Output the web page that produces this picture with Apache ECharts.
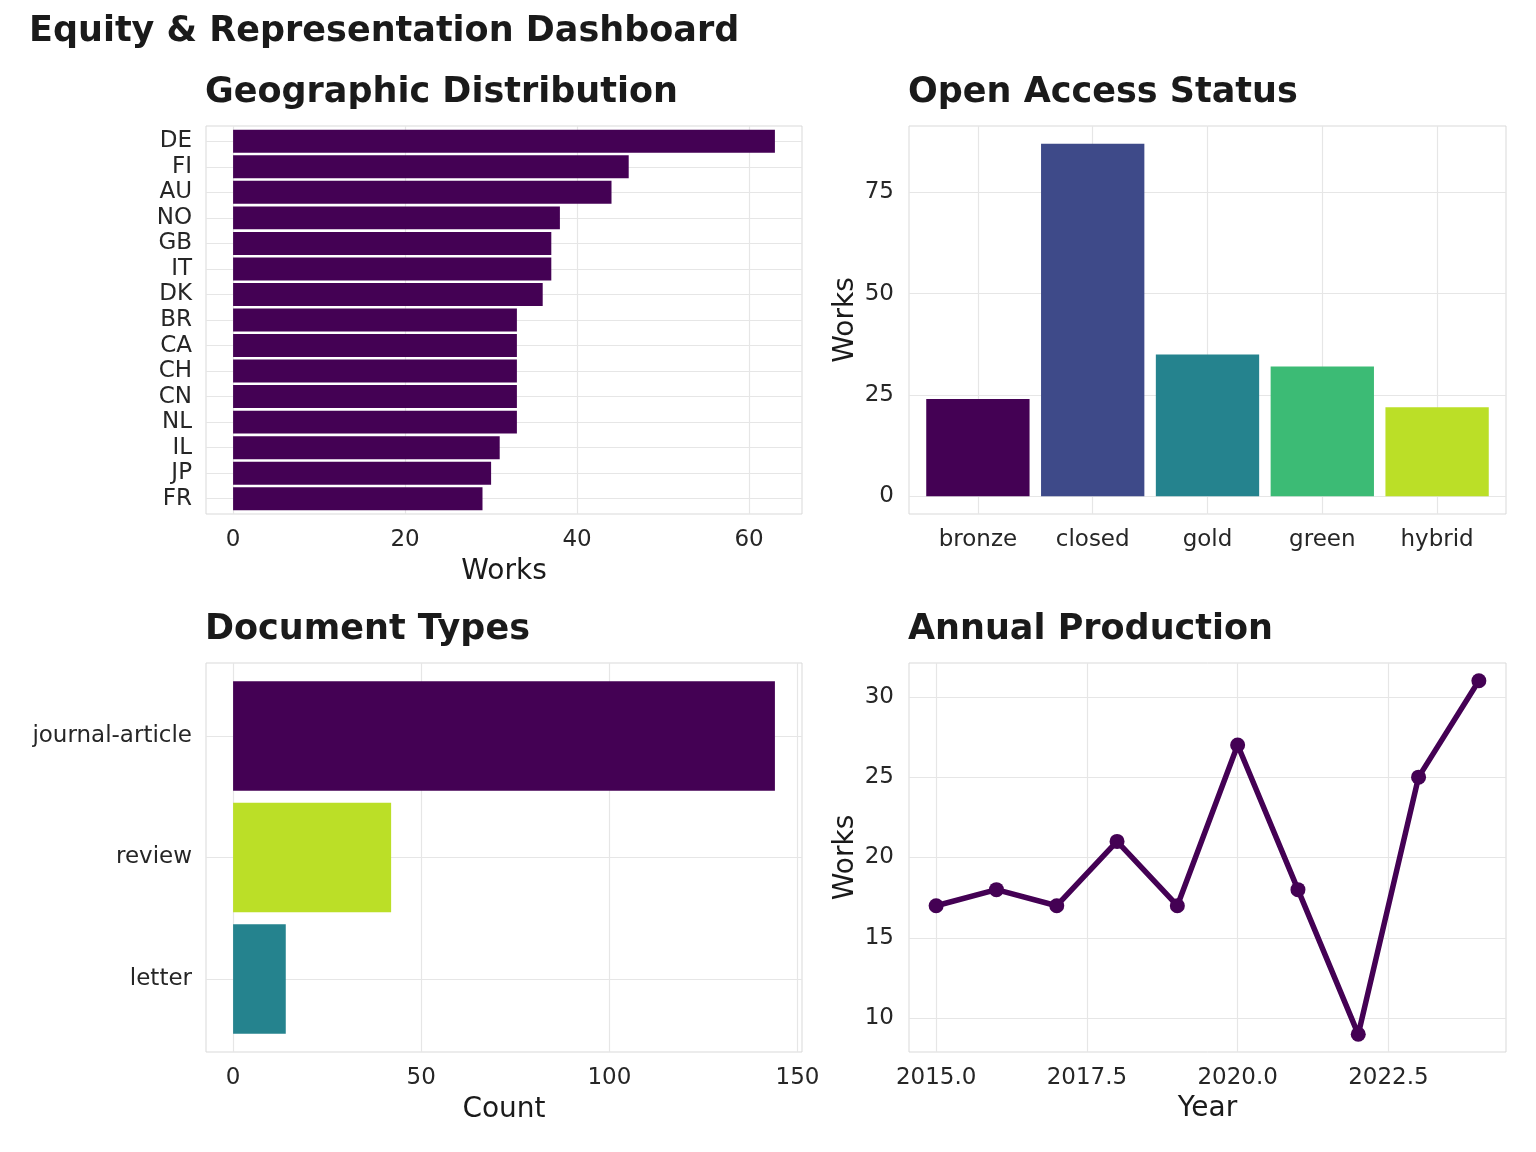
<!DOCTYPE html>
<html>
<head>
<meta charset="utf-8">
<title>Equity & Representation Dashboard</title>
<script src="https://cdn.jsdelivr.net/npm/echarts@6/dist/echarts.min.js"></script>
<style>
  html, body { margin: 0; padding: 0; background: #fff; }
  #main { width: 1536px; height: 1152px; }
</style>
</head>
<body>
<div id="main"></div>
<script>
// data
var countries = ['DE', 'FI', 'AU', 'NO', 'GB', 'IT', 'DK', 'BR', 'CA', 'CH', 'CN', 'NL', 'IL', 'JP', 'FR']
var countryWorks = [63, 46, 44, 38, 37, 37, 36, 33, 33, 33, 33, 33, 31, 30, 29]

var oaStatus = ['bronze', 'closed', 'gold', 'green', 'hybrid']
var oaWorks = [24, 87, 35, 32, 22]

var docTypes = ['journal-article', 'review', 'letter']
var docCounts = [144, 42, 14]

var years = [2015, 2016, 2017, 2018, 2019, 2020, 2021, 2022, 2023, 2024]
var yearWorks = [17, 18, 17, 21, 17, 27, 18, 9, 25, 31]

// styles
var FONT = 'DejaVu Sans'
var PURPLE = '#440154'
var oaColors = ['#440154', '#3E4A89', '#25838E', '#3CBB75', '#BBDF27']
var docColors = ['#440154', '#BBDF27', '#25838E']
var GRID_LINE = '#e6e6e6'
var BORDER = '#d9d9d9'
var TICK = { color: '#262626', fontSize: 23, fontFamily: FONT }
var NAME = { color: '#1a1a1a', fontSize: 28, fontFamily: FONT }

function frame(left, top, width, height) {
  return { left: left, top: top, width: width, height: height, show: true, borderColor: BORDER, borderWidth: 1, containLabel: false }
}
function valueAxis(idx, min, max, step, extra) {
  var ax = {
    type: 'value', gridIndex: idx, min: min, max: max,
    minInterval: step, maxInterval: step,
    axisLine: { show: false }, axisTick: { show: false },
    axisLabel: Object.assign({ margin: 15, showMinLabel: false, showMaxLabel: false }, TICK),
    splitLine: { show: true, showMinLine: false, showMaxLine: false, lineStyle: { color: GRID_LINE, width: 1.2 } }
  }
  return Object.assign(ax, extra || {})
}
function hiddenValue(idx, min, max) {
  return { type: 'value', gridIndex: idx, min: min, max: max, show: false, splitLine: { show: false } }
}
function catAxis(idx, data, extra) {
  var ax = {
    type: 'category', gridIndex: idx, data: data,
    axisLine: { show: false }, axisTick: { show: false },
    axisLabel: Object.assign({ margin: 14, interval: 0 }, TICK),
    splitLine: { show: true, interval: 0, alignWithLabel: true, lineStyle: { color: GRID_LINE, width: 1.2 } }
  }
  return Object.assign(ax, extra || {})
}
function titleAt(text, left, top, size) {
  return { text: text, left: left, top: top, textStyle: { fontFamily: FONT, fontWeight: 'bold', fontSize: size, color: '#1a1a1a' } }
}

var myChart = echarts.init(document.getElementById('main'), null, { renderer: 'canvas' })

var option = {
  backgroundColor: '#ffffff',
  animation: false,
  title: [
    titleAt('Equity & Representation Dashboard', 24, 9, 35),
    titleAt('Geographic Distribution', 200, 70, 35),
    titleAt('Open Access Status', 903, 70, 35),
    titleAt('Document Types', 200, 607, 35),
    titleAt('Annual Production', 903, 607, 35)
  ],
  grid: [
    frame(206, 126, 596, 388),                            // 0 geo frame
    { left: 206, top: 128.5, width: 596, height: 383 },    // 1 geo bars
    frame(909, 126, 597, 388),                            // 2 oa frame
    { left: 920.5, top: 126, width: 574, height: 388 },    // 3 oa bars
    frame(206, 663, 596, 389),                            // 4 doc frame
    { left: 206, top: 675.2, width: 596, height: 364.6 },  // 5 doc bars
    frame(909, 663, 597, 389)                             // 6 annual
  ],
  xAxis: [
    valueAxis(0, -3.15, 66.15, 20, { name: 'Works', nameLocation: 'middle', nameGap: 44, nameTextStyle: NAME }),
    hiddenValue(1, -3.15, 66.15),
    hiddenValue(2, 0, 1),
    catAxis(3, oaStatus, { axisLabel: Object.assign({ margin: 15, interval: 0 }, TICK) }),
    valueAxis(4, -7.2, 151.2, 50, { name: 'Count', nameLocation: 'middle', nameGap: 44, nameTextStyle: NAME }),
    hiddenValue(5, -7.2, 151.2),
    valueAxis(6, 2014.55, 2024.45, 2.5, {
      name: 'Year', nameLocation: 'middle', nameGap: 43, nameTextStyle: NAME,
      axisLabel: Object.assign({ margin: 15, showMinLabel: false, showMaxLabel: false, formatter: function (v) { return v.toFixed(1) } }, TICK)
    })
  ],
  yAxis: [
    hiddenValue(0, 0, 1),
    catAxis(1, countries, { inverse: true }),
    valueAxis(2, -4.35, 91.35, 25, { name: 'Works', nameLocation: 'middle', nameGap: 49, nameTextStyle: NAME }),
    hiddenValue(3, -4.35, 91.35),
    hiddenValue(4, 0, 1),
    catAxis(5, docTypes, { inverse: true }),
    valueAxis(6, 7.9, 32.1, 5, { name: 'Works', nameLocation: 'middle', nameGap: 49, nameTextStyle: NAME })
  ],
  series: [
    {
      name: 'Geographic', type: 'bar', xAxisIndex: 1, yAxisIndex: 1,
      data: countryWorks, barCategoryGap: '10%', itemStyle: { color: PURPLE }
    },
    {
      name: 'Open Access', type: 'bar', xAxisIndex: 3, yAxisIndex: 3,
      data: oaWorks.map(function (v, i) { return { value: v, itemStyle: { color: oaColors[i] } } }),
      barCategoryGap: '10%'
    },
    {
      name: 'Document Types', type: 'bar', xAxisIndex: 5, yAxisIndex: 5,
      data: docCounts.map(function (v, i) { return { value: v, itemStyle: { color: docColors[i] } } }),
      barCategoryGap: '10%'
    },
    {
      name: 'Annual', type: 'line', xAxisIndex: 6, yAxisIndex: 6,
      data: years.map(function (y, i) { return [y, yearWorks[i]] }),
      symbol: 'circle', symbolSize: 15,
      lineStyle: { color: PURPLE, width: 5.5 },
      itemStyle: { color: PURPLE }
    }
  ]
}

myChart.setOption(option)
</script>
</body>
</html>
